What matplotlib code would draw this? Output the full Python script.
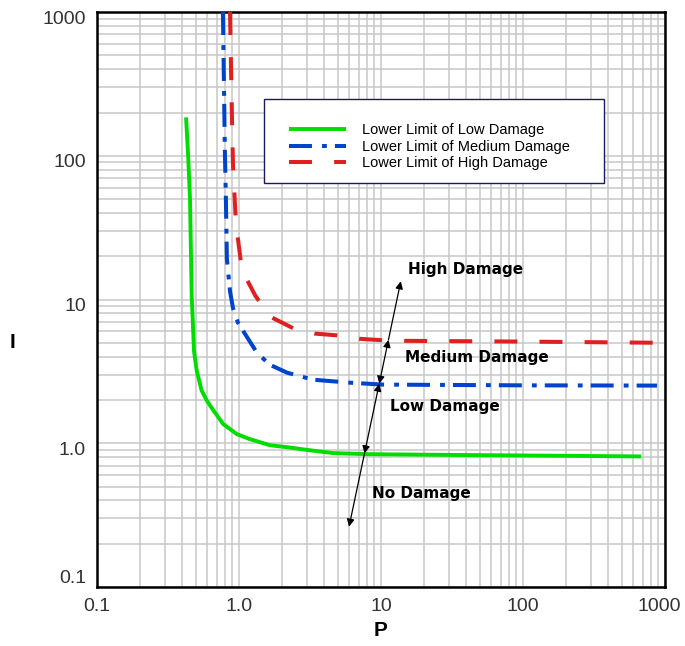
import matplotlib
matplotlib.use("Agg")
import matplotlib.pyplot as plt
from matplotlib.patches import Rectangle
from matplotlib.ticker import LogLocator, NullFormatter
from matplotlib.transforms import ScaledTranslation

# curve values (P, I)
low_p = [0.424, 0.438, 0.452, 0.465, 0.472, 0.482, 0.504, 0.546, 0.592, 0.659, 0.775,
         0.964, 1.19, 1.65, 2.17, 3.0, 4.6, 7.96, 30, 150, 680]
low_i = [185, 103, 50, 10.2, 7.43, 4.40, 3.20, 2.33, 1.99, 1.70, 1.36,
         1.16, 1.07, 0.97, 0.94, 0.90, 0.855, 0.84, 0.83, 0.82, 0.81]

med_p = [0.771, 0.796, 0.809, 0.822, 0.865, 0.908, 0.984, 1.07, 1.34, 1.65, 2.18, 3.32, 6.05, 10.3, 100, 880]
med_i = [1000, 106, 50, 19.3, 11.4, 8.7, 6.9, 6.05, 4.26, 3.52, 3.10, 2.77, 2.64, 2.56, 2.53, 2.52]

high_p = [0.865, 0.879, 0.893, 0.908, 0.953, 1.05, 1.30, 1.63, 2.5, 3.4, 5.3, 7.1, 11.6, 100, 1000]
high_i = [1000, 417, 180, 85, 33.7, 16, 10.7, 7.67, 6.2, 5.8, 5.6, 5.33, 5.17, 5.1, 5.0]

series_labels = ["Lower Limit of Low Damage", "Lower Limit of Medium Damage",
                 "Lower Limit of High Damage"]

# arrow crossing the boundaries
arrow_p = [5.96, 7.66, 9.73, 11.3, 13.8]
arrow_i = [0.263, 0.85, 2.6, 5.25, 13.4]

region_names = ["High Damage", "Medium Damage", "Low Damage", "No Damage"]
region_p = [15.5, 14.8, 11.6, 8.6]
region_i = [16.2, 3.93, 1.80, 0.45]

tick_vals = [0.1, 1, 10, 100, 1000]
tick_text = ["0.1", "1.0", "10", "100", "1000"]


def main():
    fig = plt.figure(figsize=(6.85, 6.46), dpi=100)
    ax = fig.add_axes([0.1416, 0.0913, 0.829, 0.890])
    ax.set_xscale("log")
    ax.set_yscale("log")
    ax.set_xlim(0.1, 1000)
    ax.set_ylim(0.1, 1000)

    ax.plot(low_p, low_i, color="#00dd00", lw=2.8, label=series_labels[0],
            solid_capstyle="butt", solid_joinstyle="round", zorder=3)
    ax.plot(med_p, med_i, color="#0044cc", lw=2.9, label=series_labels[1],
            dashes=(5.7, 2.5, 1.2, 2.0), zorder=3)
    ax.plot(high_p, high_i, color="#e02020", lw=2.9, label=series_labels[2],
            dashes=(5.7, 5.5), zorder=3)

    # arrows between the regions
    styles = ["<|-", "<|-|>", "<|-|>", "-|>"]
    for k, st in enumerate(styles):
        ax.annotate("", xy=(arrow_p[k + 1], arrow_i[k + 1]), xytext=(arrow_p[k], arrow_i[k]),
                    arrowprops=dict(arrowstyle=st, color="black", lw=0.9,
                                    mutation_scale=11, shrinkA=0, shrinkB=0),
                    zorder=4)

    for name, px, py in zip(region_names, region_p, region_i):
        ax.text(px, py, name, fontsize=11, fontweight="bold", family="DejaVu Sans",
                ha="left", va="center", zorder=5)

    ax.set_xticks(tick_vals)
    ax.set_xticklabels(tick_text)
    ax.set_yticks(tick_vals)
    ax.set_yticklabels(tick_text)
    for axis in (ax.xaxis, ax.yaxis):
        axis.set_minor_locator(LogLocator(base=10, subs=range(2, 10), numticks=20))
        axis.set_minor_formatter(NullFormatter())
    ax.tick_params(which="both", length=0)
    ax.tick_params(labelsize=14, labelcolor="#333333", pad=8)
    for lab in ax.get_xticklabels() + ax.get_yticklabels():
        lab.set_family("Liberation Sans")
    # nudge labels the way the reference places them
    ylabs = ax.get_yticklabels()
    ylabs[0].set_va("bottom")
    for lab in ylabs[1:]:
        lab.set_transform(lab.get_transform() + ScaledTranslation(0, -0.05, fig.dpi_scale_trans))
    xlabs = ax.get_xticklabels()
    xlabs[-1].set_transform(xlabs[-1].get_transform() + ScaledTranslation(-0.06, 0, fig.dpi_scale_trans))

    ax.grid(True, which="both", color="#c8c8c8", lw=1.1)
    ax.set_axisbelow(True)
    for sp in ax.spines.values():
        sp.set_linewidth(1.8)
        sp.set_color("black")

    ax.set_xlabel("P", fontsize=15, fontweight="bold", family="Liberation Sans", labelpad=4)
    ax.set_ylabel("I", fontsize=15, fontweight="bold", family="Liberation Sans",
                  rotation=0, va="center", ha="center")
    ax.yaxis.set_label_coords(-0.148, 0.426)

    # legend box
    box = Rectangle((0.294, 0.703), 0.599, 0.146, transform=ax.transAxes,
                    facecolor="white", edgecolor="#1a1a5e", lw=1.0, zorder=6)
    ax.add_patch(box)
    leg = ax.legend(loc="upper left", bbox_to_anchor=(0.326, 0.819), frameon=False,
                    borderpad=0, handlelength=3.85, handletextpad=1.1,
                    labelspacing=0.17, prop={"family": "Liberation Sans", "size": 10.5})
    leg.set_zorder(7)

    fig.savefig("out.png", dpi=100)


if __name__ == "__main__":
    main()
